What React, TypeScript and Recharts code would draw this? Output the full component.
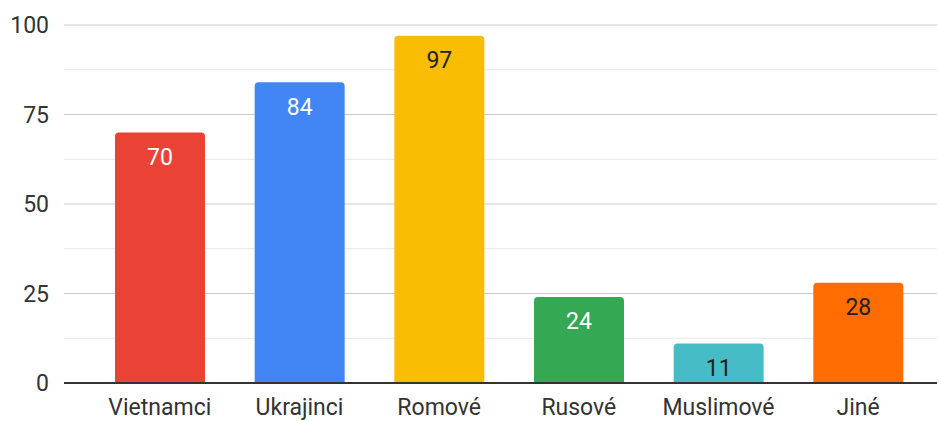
import { Bar, BarChart, CartesianGrid, Cell, LabelList, XAxis, YAxis } from "recharts";

const categories = ["Vietnamci", "Ukrajinci", "Romové", "Rusové", "Muslimové", "Jiné"];
const values = [70, 84, 97, 24, 11, 28];
const gridTicks = [0, 12.5, 25, 37.5, 50, 62.5, 75, 87.5, 100];

const BAR_COLORS = ["#ea4335", "#4285f4", "#fbbc04", "#34a853", "#46bdc6", "#ff6d01"];
const LABEL_COLORS = ["#ffffff", "#ffffff", "#202124", "#ffffff", "#202124", "#202124"];

const data = categories.map((name, i) => ({ name, value: values[i] }));

const FONT = "Roboto, Arial, sans-serif";

function ValueLabel(props: any) {
  const { x, y, width, value, index } = props;
  return (
    <text
      x={Number(x) + Number(width) / 2}
      y={Number(y) + 16}
      dy="0.71em"
      textAnchor="middle"
      fill={LABEL_COLORS[index % LABEL_COLORS.length]}
      fontSize={23}
      fontFamily={FONT}
    >
      {value}
    </text>
  );
}

function YTick(props: any) {
  const { x, y, payload } = props;
  if (payload.value % 25 !== 0) return <g />;
  return (
    <text x={x} y={y} dy="0.355em" textAnchor="end" fill="#333333" fontSize={23} fontFamily={FONT}>
      {payload.value}
    </text>
  );
}

function GridLine(props: any) {
  const { x1, y1, x2, y2, index } = props;
  const minor = index % 2 === 1;
  return (
    <line
      x1={x1}
      y1={y1}
      x2={x2}
      y2={y2}
      stroke={minor ? "#e6e6e6" : "#cccccc"}
      strokeWidth={1}
    />
  );
}

export default function App() {
  return (
    <div style={{ position: "absolute", left: 0, top: 0, background: "#fff" }}>
      <BarChart
        width={939}
        height={421}
        data={data}
        margin={{ top: 25, right: 2, bottom: 0, left: 0 }}
      >
        <CartesianGrid vertical={false} horizontal={(p: any) => <GridLine {...p} />} />
        <XAxis
          dataKey="name"
          height={38}
          padding={{ left: 26, right: 9 }}
          tickLine={false}
          tickSize={0}
          tickMargin={16}
          axisLine={{ stroke: "#333333", strokeWidth: 2 }}
          tick={{ fill: "#333333", fontSize: 23, fontFamily: FONT }}
          interval={0}
        />
        <YAxis
          width={64}
          domain={[0, 100]}
          ticks={gridTicks}
          interval={0}
          axisLine={false}
          tickLine={false}
          tickSize={0}
          tickMargin={15}
          tick={<YTick />}
        />
        <Bar dataKey="value" barSize={90} radius={[4, 4, 0, 0]} isAnimationActive={false}>
          {data.map((d, i) => (
            <Cell key={d.name} fill={BAR_COLORS[i]} />
          ))}
          <LabelList dataKey="value" content={<ValueLabel />} />
        </Bar>
      </BarChart>
    </div>
  );
}
